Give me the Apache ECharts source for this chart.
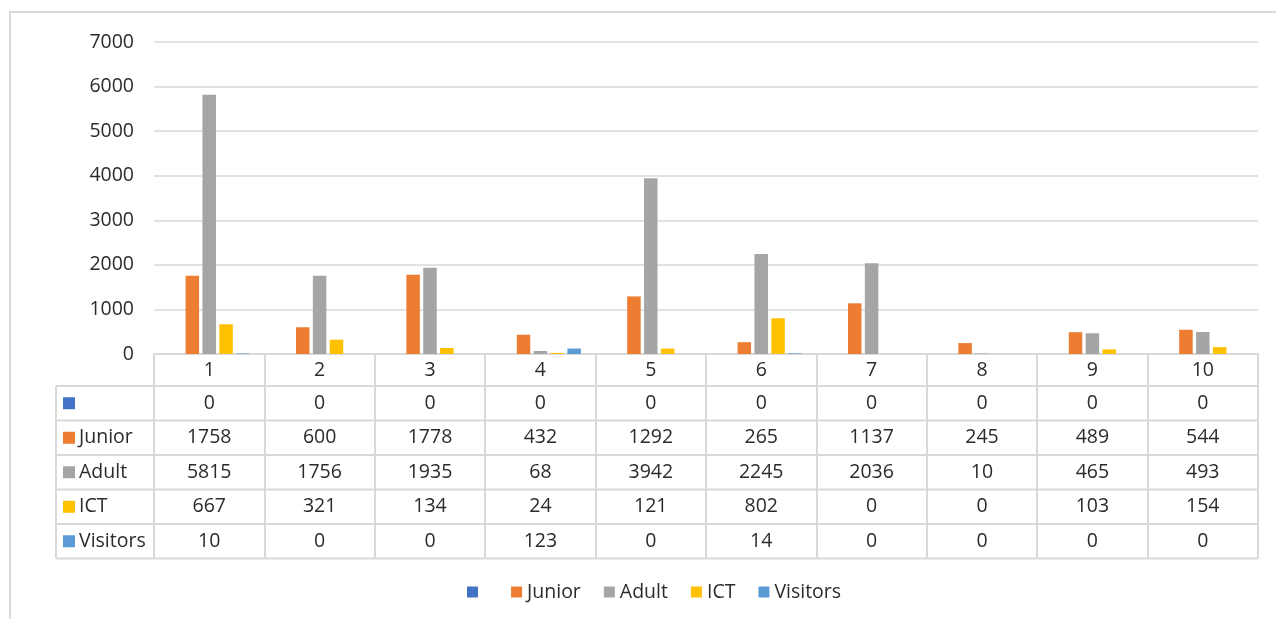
<!DOCTYPE html>
<html>
<head>
<meta charset="utf-8">
<script src="https://cdn.jsdelivr.net/npm/echarts/dist/echarts.min.js"></script>
<style>
  html, body { margin: 0; padding: 0; background: #fff; }
  #chart { width: 1276px; height: 619px; }
</style>
</head>
<body>
<div id="chart"></div>
<script>
// Monthly attendance by group, shown as clustered bars with a data table underneath
const categories = ['1', '2', '3', '4', '5', '6', '7', '8', '9', '10'];
const seriesNames = [' ', 'Junior', 'Adult', 'ICT', 'Visitors'];
const blankValues = [0, 0, 0, 0, 0, 0, 0, 0, 0, 0];
const juniorValues = [1758, 600, 1778, 432, 1292, 265, 1137, 245, 489, 544];
const adultValues = [5815, 1756, 1935, 68, 3942, 2245, 2036, 10, 465, 493];
const ictValues = [667, 321, 134, 24, 121, 802, 0, 0, 103, 154];
const visitorValues = [10, 0, 0, 123, 0, 14, 0, 0, 0, 0];
const yMin = 0, yMax = 7000, yStep = 1000;

const seriesValues = [blankValues, juniorValues, adultValues, ictValues, visitorValues];
const colors = ['#4472C4', '#ED7D31', '#A5A5A5', '#FFC000', '#5B9BD5'];

const FONT = '"Open Sans", Lato, sans-serif';
const TEXT = '#2b2b2b';
const LINE = '#d9d9d9';
const FS = 19.5;

// layout of the plot and the table under it
const plotLeft = 154, plotRight = 1258, plotTop = 42, axisY = 354;
const tableLeft = 56;
const rowEdges = [386, 420.5, 455, 489.5, 524, 558.5];

const chart = echarts.init(document.getElementById('chart'), null, { renderer: 'canvas' });

chart.setOption({
  animation: false,
  backgroundColor: '#fff',
  textStyle: { fontFamily: FONT },
  color: colors,
  grid: {
    left: plotLeft, right: 1276 - plotRight, top: plotTop, bottom: 619 - axisY,
    containLabel: false, outerBoundsMode: 'none'
  },
  legend: {
    left: 462, top: 577,
    icon: 'rect', itemWidth: 11, itemHeight: 11, itemGap: 23,
    textStyle: { fontFamily: FONT, fontSize: FS, color: TEXT },
    data: seriesNames
  },
  xAxis: {
    type: 'category',
    data: categories,
    axisLine: { show: true, lineStyle: { color: LINE, width: 2 } },
    axisTick: { show: true, interval: 0, length: rowEdges[rowEdges.length - 1] - axisY, lineStyle: { color: LINE, width: 2 } },
    axisLabel: { fontFamily: FONT, fontSize: FS, color: TEXT, margin: 6, interval: 0 },
    splitLine: { show: false }
  },
  yAxis: {
    type: 'value',
    min: yMin, max: yMax, interval: yStep,
    axisLine: { show: false },
    axisTick: { show: false },
    axisLabel: { fontFamily: FONT, fontSize: FS, color: TEXT, margin: 20, formatter: v => String(v) },
    splitLine: { lineStyle: { color: LINE, width: 1.5 } }
  },
  series: seriesNames.map((name, i) => ({
    name: name,
    type: 'bar',
    data: seriesValues[i],
    barWidth: 13.5,
    barGap: '25%',
    itemStyle: { color: colors[i] }
  }))
});

// data table: grid lines, row headers with swatches, and the values
const graphics = [];
// outer chart frame
graphics.push({ type: 'rect', shape: { x: 10, y: 12, width: 1300, height: 700 }, style: { fill: null, stroke: LINE, lineWidth: 2 }, silent: true });
rowEdges.forEach(y => {
  graphics.push({ type: 'line', shape: { x1: tableLeft, y1: y, x2: plotRight, y2: y }, style: { stroke: LINE, lineWidth: 2 }, silent: true });
});
graphics.push({ type: 'line', shape: { x1: tableLeft, y1: rowEdges[0], x2: tableLeft, y2: rowEdges[rowEdges.length - 1] }, style: { stroke: LINE, lineWidth: 2 }, silent: true });

seriesNames.forEach((name, r) => {
  const cy = (rowEdges[r] + rowEdges[r + 1]) / 2;
  graphics.push({ type: 'rect', shape: { x: 63, y: cy - 6, width: 12, height: 12 }, style: { fill: colors[r] }, silent: true });
  graphics.push({ type: 'text', x: 79, y: cy, style: { text: name.trim(), fill: TEXT, font: FS + 'px ' + FONT, textAlign: 'left', textVerticalAlign: 'middle' }, silent: true });
  seriesValues[r].forEach((v, c) => {
    const cx = chart.convertToPixel({ xAxisIndex: 0 }, c);
    graphics.push({ type: 'text', x: cx, y: cy, style: { text: String(v), fill: TEXT, font: FS + 'px ' + FONT, textAlign: 'center', textVerticalAlign: 'middle' }, silent: true });
  });
});

chart.setOption({ graphic: graphics });
</script>
</body>
</html>
